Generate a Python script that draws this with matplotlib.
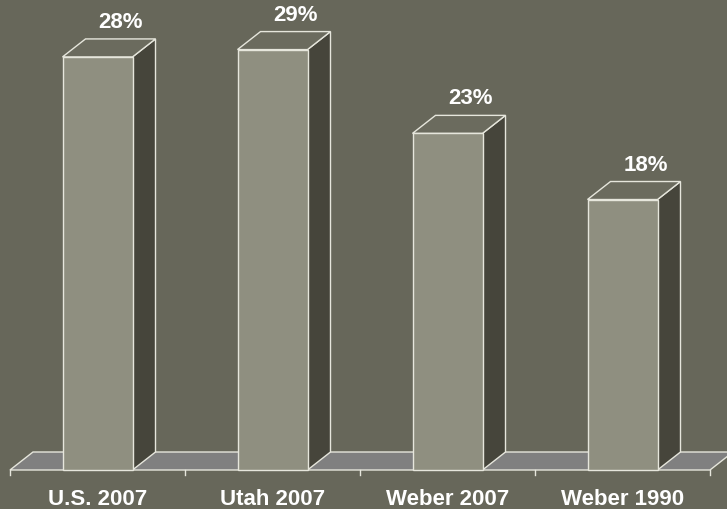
import numpy as np
import matplotlib.pyplot as plt
from matplotlib.patches import Polygon

# Datos (porcentajes)
categorias = ['U.S. 2007', 'Utah 2007', 'Weber 2007', 'Weber 1990']
valores = [28.1, 28.6, 22.9, 18.4]

fondo = '#67675a'
frente = '#8f8f80'
lado = '#46453b'
techo = '#6b6b5e'
piso = '#808080'
borde = '#e6e6dc'

fig = plt.figure(figsize=(7.27, 5.10), dpi=100, facecolor=fondo)
ax = fig.add_axes([0, 0, 1, 1])
ax.set_facecolor(fondo)

# escala: categoria = 175 px, 1% = 14.7 px, eje en x=10 px, y=471 px
cw = 175.0
k = 14.7
ax.set_xlim(-0.5 - 10 / cw, -0.5 + 717 / cw)
ax.set_ylim(-39 / k, 471 / k)
ax.axis('off')

dx = 23 / cw   # profundidad en unidades de categoria
dy = 18 / k    # profundidad en unidades de valor
ancho = 0.40
n = len(categorias)

# piso
x0, x1 = -0.5, n - 0.5
ax.add_patch(Polygon([(x0, 0), (x1, 0), (x1 + dx, dy), (x0 + dx, dy)],
                     closed=True, facecolor=piso, edgecolor=borde, lw=1, zorder=1))
# marcas del eje
for i in range(n + 1):
    ax.plot([i - 0.5, i - 0.5], [0, -5 / k], color=borde, lw=1, zorder=2)

for i, v in enumerate(valores):
    a = i - ancho / 2
    b = i + ancho / 2
    ax.add_patch(Polygon([(b, 0), (b + dx, dy), (b + dx, v + dy), (b, v)],
                         closed=True, facecolor=lado, edgecolor=borde, lw=1, zorder=3))
    ax.add_patch(Polygon([(a, v), (b, v), (b + dx, v + dy), (a + dx, v + dy)],
                         closed=True, facecolor=techo, edgecolor=borde, lw=1, zorder=3))
    ax.add_patch(Polygon([(a, 0), (b, 0), (b, v), (a, v)],
                         closed=True, facecolor=frente, edgecolor=borde, lw=1, zorder=4))
    ax.annotate('%d%%' % round(v), (i + dx, v + dy), xytext=(0, 5),
                textcoords='offset points', ha='center', va='bottom',
                color='white', fontsize=16, fontweight='bold',
                family='Liberation Sans')
    ax.text(i, -34 / k, categorias[i], ha='center', va='baseline',
            color='white', fontsize=16, fontweight='bold',
            family='Liberation Sans')

fig.savefig('out.png', dpi=100, facecolor=fondo)
